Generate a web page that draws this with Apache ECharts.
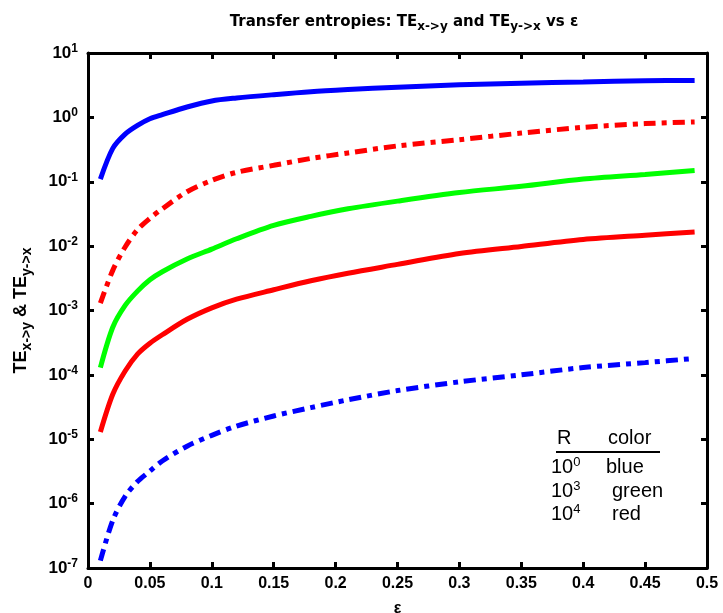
<!DOCTYPE html>
<html>
<head>
<meta charset="utf-8">
<script src="https://cdn.jsdelivr.net/npm/echarts@6/dist/echarts.min.js"></script>
<style>
html, body {margin: 0; padding: 0; background: #fff;}
#chart {width: 723px; height: 613px;}
</style>
</head>
<body>
<div id="chart"></div>
<script>
// epsilon samples
var eps = [0.01, 0.02, 0.03, 0.04, 0.05, 0.06, 0.08, 0.10, 0.12, 0.15, 0.18, 0.21, 0.25, 0.30, 0.35, 0.40, 0.45, 0.49];
// R = 10^0 (blue)
var blueSolid = [0.11, 0.33, 0.55, 0.75, 0.95, 1.1, 1.45, 1.8, 2.0, 2.25, 2.5, 2.7, 2.95, 3.2, 3.4, 3.55, 3.7, 3.75];
var blueDash = [1.3e-7, 5.5e-7, 1.3e-6, 2.2e-6, 3.2e-6, 4.6e-6, 7.8e-6, 1.15e-5, 1.6e-5, 2.3e-5, 3.1e-5, 4.1e-5, 5.7e-5, 7.8e-5, 1.0e-4, 1.3e-4, 1.55e-4, 1.8e-4];
// R = 10^3 (green)
var greenSolid = [1.3e-4, 5.5e-4, 1.2e-3, 2.0e-3, 3.0e-3, 4.0e-3, 6.3e-3, 9e-3, 0.013, 0.021, 0.029, 0.038, 0.05, 0.068, 0.085, 0.11, 0.13, 0.15];
// R = 10^4 (red)
var redDash = [1.3e-3, 4.2e-3, 9.7e-3, 0.018, 0.027, 0.038, 0.07, 0.105, 0.14, 0.18, 0.23, 0.28, 0.36, 0.45, 0.57, 0.7, 0.8, 0.85];
var redSolid = [1.3e-5, 5.0e-5, 1.15e-4, 2.1e-4, 3.1e-4, 4.2e-4, 7.3e-4, 1.1e-3, 1.5e-3, 2.1e-3, 2.9e-3, 3.8e-3, 5.2e-3, 7.7e-3, 9.9e-3, 0.0127, 0.0148, 0.0166];

var legendRows = [["0", "blue"], ["3", "green"], ["4", "red"]];

function pairs(ys) {
	return eps.map(function (x, i) { return [x, ys[i]]; });
}

var dashDot = [12, 6, 5, 6];

function line(name, ys, color, dashed) {
	return {
		name: name,
		type: "line",
		data: pairs(ys),
		showSymbol: false,
		smooth: 0.3,
		animation: false,
		lineStyle: {color: color, width: 5, type: dashed ? dashDot : "solid", cap: "butt"}
	};
}

var myChart = echarts.init(document.getElementById("chart"));

var supRich = {
	b: {fontFamily: "Liberation Sans", fontWeight: "bold", fontSize: 17, color: "#000"},
	sup: {fontFamily: "Liberation Sans", fontWeight: "bold", fontSize: 12, color: "#000", verticalAlign: "top", padding: [0, 0, 9, 0]}
};

var legendFont = "20px Liberation Sans";
var graphics = [{
	type: "text", x: 557, y: 438,
	style: {text: "R", font: legendFont, fill: "#000", verticalAlign: "middle"}
}, {
	type: "text", x: 608, y: 438,
	style: {text: "color", font: legendFont, fill: "#000", verticalAlign: "middle"}
}, {
	type: "line", shape: {x1: 556, y1: 452, x2: 660, y2: 452},
	style: {stroke: "#000", lineWidth: 2}
}];
var rowY = [467, 491, 514];
legendRows.forEach(function (r, i) {
	graphics.push({
		type: "text", x: 551, y: rowY[i],
		style: {
			text: "10{s|" + r[0] + "}",
			font: legendFont, fill: "#000", verticalAlign: "middle",
			rich: {s: {fontSize: 13, fontFamily: "Liberation Sans", verticalAlign: "top", padding: [0, 0, 10, 0]}}
		}
	});
	graphics.push({
		type: "text", x: i == 0 ? 606 : 612, y: rowY[i],
		style: {text: r[1], font: legendFont, fill: "#000", verticalAlign: "middle"}
	});
});

var option = {
	backgroundColor: "#fff",
	animation: false,
	title: {
		text: "Transfer entropies: TE{s|x->y} and TE{s|y->x} vs ε",
		left: 399, top: 6, textAlign: "center",
		textStyle: {
			fontFamily: "DejaVu Sans", fontWeight: "bold", fontSize: 15, color: "#000",
			rich: {s: {fontFamily: "DejaVu Sans", fontWeight: "bold", fontSize: 12, color: "#000", verticalAlign: "bottom", padding: [10, 0, 0, 0]}}
		}
	},
	grid: {left: 88, right: 16, top: 53, bottom: 45, outerBoundsMode: "none", containLabel: false},
	xAxis: [{
		type: "value", min: 0, max: 0.5, interval: 0.05,
		name: "ε", nameLocation: "middle", nameGap: 33,
		nameTextStyle: {fontFamily: "Liberation Sans", fontWeight: "bold", fontSize: 16, color: "#000"},
		axisLine: {onZero: false, lineStyle: {color: "#000", width: 3}},
		axisTick: {inside: true, length: 6, lineStyle: {width: 3}},
		axisLabel: {
			margin: 8, fontFamily: "Liberation Sans", fontWeight: "bold", fontSize: 16, color: "#000",
			formatter: function (v) { return String(+v.toFixed(2)); }
		},
		splitLine: {show: false}
	}, {
		type: "value", min: 0, max: 0.5, interval: 0.05, position: "top",
		axisLine: {onZero: false, lineStyle: {color: "#000", width: 3}},
		axisTick: {inside: true, length: 6, lineStyle: {width: 3}},
		axisLabel: {show: false},
		splitLine: {show: false}
	}],
	yAxis: [{
		type: "log", logBase: 10, min: 1e-7, max: 10, interval: 1,
		name: "TE{s|x->y} & TE{s|y->x}", nameLocation: "middle", nameGap: 54, nameRotate: 90,
		nameTextStyle: {
			fontFamily: "Liberation Sans", fontWeight: "bold", fontSize: 18, color: "#000",
			rich: {s: {fontFamily: "Liberation Sans", fontWeight: "bold", fontSize: 14, color: "#000", verticalAlign: "bottom", padding: [11, 0, 0, 0]}}
		},
		axisLine: {onZero: false, lineStyle: {color: "#000", width: 3}},
		axisTick: {inside: true, length: 6, lineStyle: {width: 3}},
		axisLabel: {
			margin: 10, rich: supRich,
			formatter: function (v) {
				var e = Math.round(Math.log10(v));
				return "{b|10}{sup|" + e + "}";
			}
		},
		splitLine: {show: false}
	}, {
		type: "log", logBase: 10, min: 1e-7, max: 10, interval: 1, position: "right",
		axisLine: {onZero: false, lineStyle: {color: "#000", width: 3}},
		axisTick: {inside: true, length: 6, lineStyle: {width: 3}},
		axisLabel: {show: false},
		splitLine: {show: false}
	}],
	graphic: graphics,
	series: [
		line("TE R=1 x->y", blueSolid, "#0000ff", false),
		line("TE R=1 y->x", blueDash, "#0000ff", true),
		line("TE R=1e3", greenSolid, "#00ff00", false),
		line("TE R=1e4 x->y", redDash, "#ff0000", true),
		line("TE R=1e4 y->x", redSolid, "#ff0000", false)
	]
};
myChart.setOption(option);
</script>
</body>
</html>
